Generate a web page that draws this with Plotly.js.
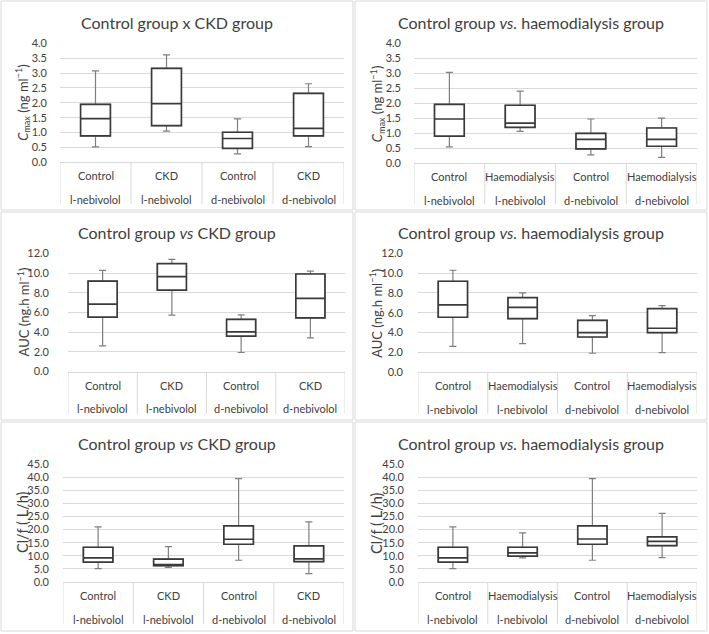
<!DOCTYPE html>
<html>
<head>
<meta charset="utf-8">
<script src="https://cdn.plot.ly/plotly-3.0.1.min.js"></script>
<style>
  html, body { margin: 0; padding: 0; background: #ffffff; }
  #chart { width: 709px; height: 634px; }
</style>
</head>
<body>
<div id="chart"></div>
<script>
// category labels (two lines under every box)
const drugLabels = ['l-nebivolol', 'l-nebivolol', 'd-nebivolol', 'd-nebivolol'];
const ckdGroups = ['Control', 'CKD', 'Control', 'CKD'];
const hdGroups = ['Control', 'Haemodialysis', 'Control', 'Haemodialysis'];

// each row: [lower whisker, Q1, median, Q3, upper whisker]
const cmaxCkd = [[0.52, 0.89, 1.47, 1.95, 3.07], [1.05, 1.23, 1.97, 3.16, 3.61], [0.28, 0.47, 0.80, 1.01, 1.46], [0.53, 0.89, 1.14, 2.32, 2.64]];
const cmaxHd = [[0.54, 0.90, 1.47, 1.96, 3.03], [1.06, 1.19, 1.33, 1.93, 2.40], [0.27, 0.47, 0.79, 0.99, 1.47], [0.19, 0.56, 0.79, 1.17, 1.50]];
const aucCkd = [[2.61, 5.53, 6.85, 9.17, 10.26], [5.73, 8.27, 9.63, 10.95, 11.39], [1.93, 3.59, 4.02, 5.29, 5.75], [3.42, 5.44, 7.42, 9.90, 10.20]];
const aucHd = [[2.62, 5.55, 6.79, 9.18, 10.29], [2.89, 5.41, 6.55, 7.53, 8.00], [1.92, 3.56, 4.00, 5.24, 5.71], [1.98, 4.00, 4.44, 6.42, 6.72]];
const clfCkd = [[5.1, 7.6, 9.2, 13.25, 21.0], [5.6, 6.24, 6.6, 8.7, 13.5], [8.3, 14.4, 16.3, 21.4, 39.4], [3.2, 7.8, 8.8, 13.75, 22.9]];
const clfHd = [[5.1, 7.6, 9.2, 13.25, 21.0], [9.2, 9.9, 11.1, 13.25, 18.7], [8.3, 14.4, 16.4, 21.4, 39.4], [9.3, 13.9, 15.5, 17.2, 26.2]];

const titles = [
    'Control group x CKD group',
    'Control group <i>vs.</i> haemodialysis group',
    'Control group <i>vs</i> CKD group',
    'Control group <i>vs.</i> haemodialysis group',
    'Control group <i>vs</i> CKD group',
    'Control group <i>vs.</i> haemodialysis group'
];
const yTitles = [
    '<i>C</i><sub>max</sub> (ng ml<sup>−1</sup>)',
    '<i>C</i><sub>max</sub> (ng ml<sup>−1</sup>)',
    'AUC (ng.h ml<sup>−1</sup>)',
    'AUC (ng.h ml<sup>−1</sup>)',
    'Cl/f ( L/h)',
    'Cl/f ( L/h)'
];

const W = 709, H = 634;
function px(x) { return x / W; }
function py(y) { return 1 - y / H; }

// pixel boxes of the six panels (frame, plot area, label rows)
const panels = [
    {data: cmaxCkd, groups: ckdGroups, frame: [1, 1, 353, 210], plot: [60, 43.3, 344, 162.3], tableBottom: 204, ymax: 4, dtick: 0.5, titleX: 23, standoff: 12},
    {data: cmaxHd, groups: hdGroups, frame: [355, 1, 707, 210], plot: [414, 43.3, 697, 163], tableBottom: 204, ymax: 4, dtick: 0.5, titleX: 377, standoff: 12},
    {data: aucCkd, groups: ckdGroups, frame: [1, 212, 353, 420], plot: [68, 253.3, 345, 371.5], tableBottom: 414, ymax: 12, dtick: 2, titleX: 23, standoff: 18},
    {data: aucHd, groups: hdGroups, frame: [355, 212, 707, 420], plot: [418, 253.3, 697, 372.3], tableBottom: 414, ymax: 12, dtick: 2, titleX: 376, standoff: 14},
    {data: clfCkd, groups: ckdGroups, frame: [1, 422, 353, 631], plot: [63, 464, 344, 582], tableBottom: 624, ymax: 45, dtick: 5, titleX: 22, standoff: 13},
    {data: clfHd, groups: hdGroups, frame: [355, 422, 707, 631], plot: [418, 464, 697, 582], tableBottom: 624, ymax: 45, dtick: 5, titleX: 376, standoff: 13}
];

const fontFamily = 'Lato, "Open Sans", sans-serif';
const gridColor = '#d9d9d9';
const traces = [];
const shapes = [];
const annotations = [];
const layout = {
    width: W,
    height: H,
    margin: {l: 0, r: 0, t: 0, b: 0},
    paper_bgcolor: '#ffffff',
    plot_bgcolor: '#ffffff',
    showlegend: false,
    boxmode: 'overlay',
    font: {family: fontFamily, color: '#595959'}
};

panels.forEach(function (p, k) {
    const n = k + 1;
    const xa = n === 1 ? 'x' : 'x' + n;
    const ya = n === 1 ? 'y' : 'y' + n;
    const pos = p.data.map(function (_, i) { return i; });

    // gray whiskers with caps
    traces.push({
        type: 'box', xaxis: xa, yaxis: ya, x: pos,
        lowerfence: p.data.map(function (r) { return r[0]; }),
        q1: p.data.map(function (r) { return r[1]; }),
        median: p.data.map(function (r) { return r[2]; }),
        q3: p.data.map(function (r) { return r[3]; }),
        upperfence: p.data.map(function (r) { return r[4]; }),
        width: 0.42, whiskerwidth: 0.24,
        line: {color: '#7f7f7f', width: 1.2},
        fillcolor: 'rgba(0,0,0,0)',
        hoverinfo: 'skip'
    });
    // dark box on top
    traces.push({
        type: 'box', xaxis: xa, yaxis: ya, x: pos,
        lowerfence: p.data.map(function (r) { return r[1]; }),
        q1: p.data.map(function (r) { return r[1]; }),
        median: p.data.map(function (r) { return r[2]; }),
        q3: p.data.map(function (r) { return r[3]; }),
        upperfence: p.data.map(function (r) { return r[3]; }),
        width: 0.42, whiskerwidth: 0,
        line: {color: '#3a3a3a', width: 1.7},
        fillcolor: '#ffffff',
        hoverinfo: 'skip'
    });

    layout[n === 1 ? 'xaxis' : 'xaxis' + n] = {
        domain: [px(p.plot[0]), px(p.plot[2])],
        anchor: ya,
        range: [-0.5, 3.5],
        showticklabels: false,
        showgrid: false,
        zeroline: false,
        showline: true,
        linecolor: gridColor,
        linewidth: 1,
        fixedrange: true
    };
    layout[n === 1 ? 'yaxis' : 'yaxis' + n] = {
        domain: [py(p.plot[3]), py(p.plot[1])],
        anchor: xa,
        range: [0, p.ymax],
        dtick: p.dtick,
        tickformat: '.1f',
        showgrid: true,
        gridcolor: gridColor,
        gridwidth: 1,
        zeroline: false,
        showline: false,
        ticks: '',
        ticklabelstandoff: p.standoff,
        tickfont: {family: fontFamily, size: 11, color: '#404040'},
        fixedrange: true
    };

    // panel frame
    shapes.push({
        type: 'rect', xref: 'paper', yref: 'paper',
        x0: px(p.frame[0]), x1: px(p.frame[2]), y0: py(p.frame[3]), y1: py(p.frame[1]),
        line: {color: gridColor, width: 1}, layer: 'below'
    });
    // category table separators
    for (let i = 0; i <= pos.length; i++) {
        shapes.push({
            type: 'line', xref: xa, yref: 'paper',
            x0: i - 0.5, x1: i - 0.5, y0: py(p.plot[3]), y1: py(p.tableBottom),
            line: {color: gridColor, width: 1}
        });
    }
    // category labels
    pos.forEach(function (i) {
        annotations.push({
            xref: xa, yref: 'paper', x: i, y: py(p.plot[3] + 13.5),
            text: p.groups[i], showarrow: false, xanchor: 'center', yanchor: 'middle',
            font: {family: fontFamily, size: 11, color: '#404040'}
        });
        annotations.push({
            xref: xa, yref: 'paper', x: i, y: py(p.plot[3] + 37),
            text: drugLabels[i], showarrow: false, xanchor: 'center', yanchor: 'middle',
            font: {family: fontFamily, size: 11, color: '#404040'}
        });
    });
    // panel title
    annotations.push({
        xref: 'paper', yref: 'paper',
        x: px((p.frame[0] + p.frame[2]) / 2), y: py(p.frame[1] + 21),
        text: titles[k], showarrow: false, xanchor: 'center', yanchor: 'middle',
        font: {family: fontFamily, size: 16, color: '#404040'}
    });
    // y axis title
    annotations.push({
        xref: 'paper', yref: 'paper',
        x: px(p.titleX), y: py((p.plot[1] + p.plot[3]) / 2),
        text: yTitles[k], showarrow: false, textangle: -90,
        xanchor: 'center', yanchor: 'middle', borderpad: 0,
        font: {family: fontFamily, size: k >= 4 ? 14.5 : 13, color: '#404040'}
    });
});

layout.shapes = shapes;
layout.annotations = annotations;

Plotly.newPlot('chart', traces, layout, {staticPlot: true, displayModeBar: false});
</script>
</body>
</html>
